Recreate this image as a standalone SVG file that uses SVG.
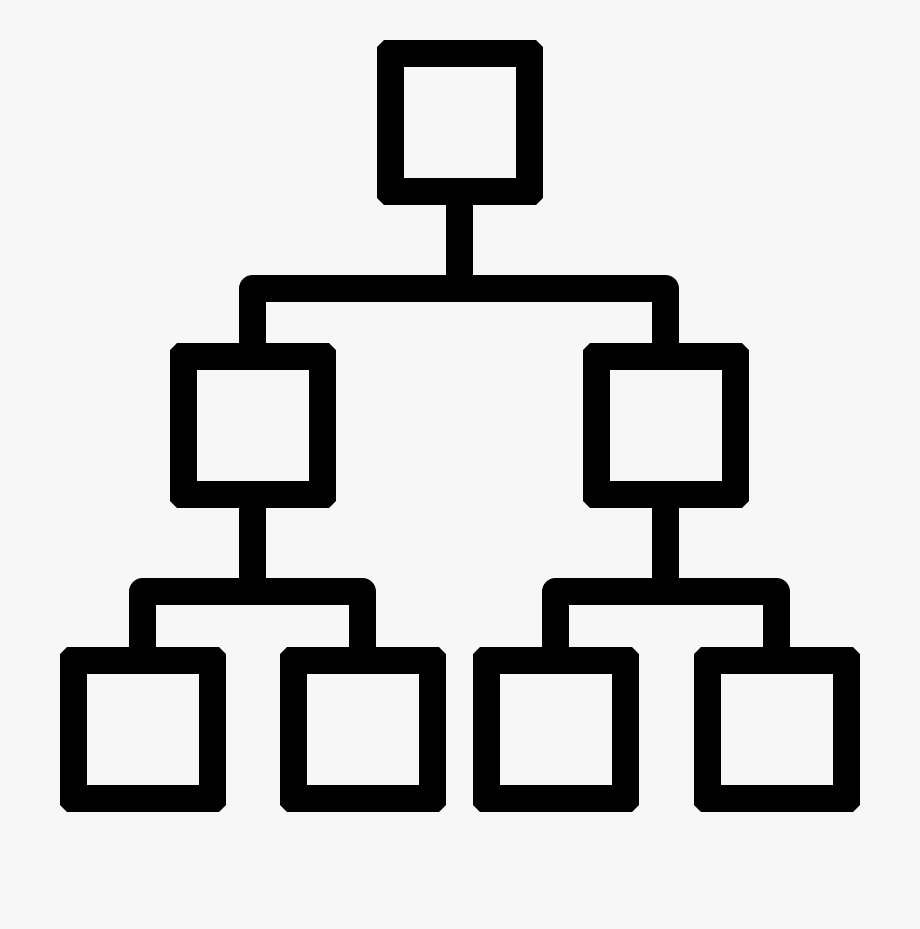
<svg xmlns="http://www.w3.org/2000/svg" xmlns:xlink="http://www.w3.org/1999/xlink" width="920" height="929" viewBox="0 0 920 929">
<style>
.frame{fill:#000;fill-rule:evenodd}
.conn{fill:none;stroke:#000;stroke-width:27;stroke-linejoin:round;stroke-linecap:butt}
</style>
<defs>
<path id="box" d="M7 0H159L166 7V158L159 165H7L0 158V7Z M27 27V138H139V27Z"/>
</defs>
<rect width="920" height="929" fill="#f7f7f7"/>
<g id="connectors">
<path class="conn" d="M459.5 205V289"/>
<path class="conn" d="M252.5 343V288.5H665.5V343"/>
<path class="conn" d="M252.5 508V592"/>
<path class="conn" d="M142.5 647V591.5H362.5V647"/>
<path class="conn" d="M665.5 508V592"/>
<path class="conn" d="M555.5 647V591.5H776.5V647"/>
</g>
<g id="node-top"><use xlink:href="#box" class="frame" transform="translate(377,40)"/></g>
<g id="node-mid-left"><use xlink:href="#box" class="frame" transform="translate(170,343)"/></g>
<g id="node-mid-right"><use xlink:href="#box" class="frame" transform="translate(583,343)"/></g>
<g id="node-bottom-1"><use xlink:href="#box" class="frame" transform="translate(60,647)"/></g>
<g id="node-bottom-2"><use xlink:href="#box" class="frame" transform="translate(280,647)"/></g>
<g id="node-bottom-3"><use xlink:href="#box" class="frame" transform="translate(473,647)"/></g>
<g id="node-bottom-4"><use xlink:href="#box" class="frame" transform="translate(694,647)"/></g>
</svg>
